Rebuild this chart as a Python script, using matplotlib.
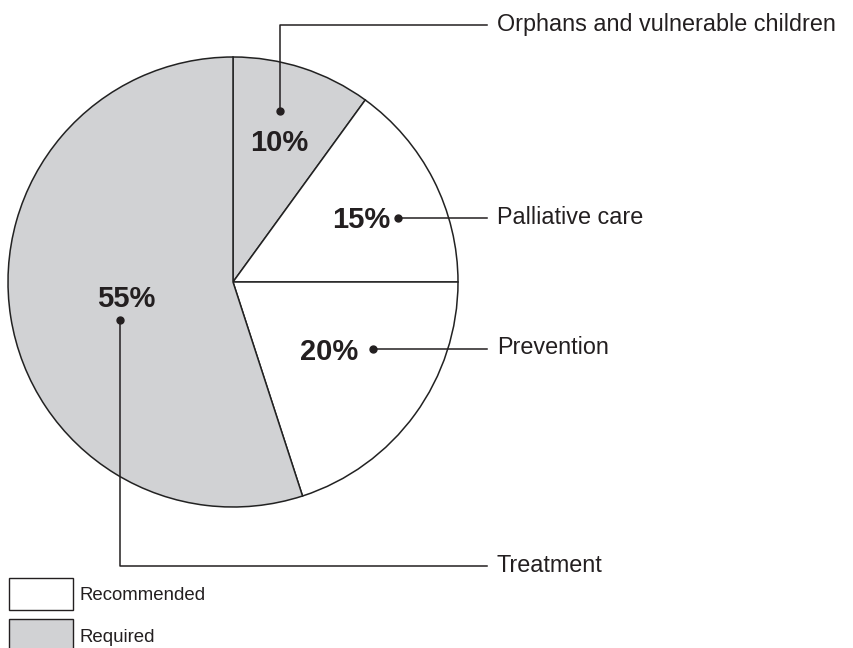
import matplotlib.pyplot as plt
from matplotlib.patches import Rectangle

plt.rcParams['font.family'] = ['Liberation Sans', 'DejaVu Sans']

categories = ['Orphans and vulnerable children', 'Palliative care', 'Prevention', 'Treatment']
shares = [10, 15, 20, 55]
status = ['Required', 'Recommended', 'Recommended', 'Required']
pct_labels = ['10%', '15%', '20%', '55%']

GRAY = '#d1d2d4'
colors = {'Required': GRAY, 'Recommended': 'white'}

fig = plt.figure(figsize=(8.54, 6.48), dpi=100)
ax = fig.add_axes([0, 0, 1, 1])

cx, cy, r = 233, 282, 225
# y axis is flipped below, so start at -90 and go counterclockwise in data space
wedges, _ = ax.pie(shares, colors=[colors[s] for s in status], startangle=-90,
                   counterclock=True, center=(cx, cy), radius=r,
                   wedgeprops=dict(edgecolor='#222222', linewidth=1.1))
ax.set_xlim(0, 854)
ax.set_ylim(648, 0)
ax.set_aspect('equal')
ax.axis('off')

# label positions (pixels): percent text, dot, callout path
pct_pos = [(279, 143), (361, 220), (329, 352), (126, 299)]
dots = [(280, 111), (398, 218), (373, 349), (120, 320)]
elbows = [(280, 25), None, None, (120, 566)]
label_y = [25, 218, 348, 566]
line_end = 487

for i, cat in enumerate(categories):
    ax.text(pct_pos[i][0], pct_pos[i][1], pct_labels[i], fontsize=21, fontweight='bold',
            ha='center', va='center', color='#231f20')
    dx, dy = dots[i]
    ax.plot(dx, dy, 'o', color='#231f20', markersize=5)
    if elbows[i] is None:
        xs, ys = [dx, line_end], [dy, dy]
    else:
        ex, ey = elbows[i]
        xs, ys = [dx, ex, line_end], [dy, ey, ey]
    ax.plot(xs, ys, color='#231f20', linewidth=1.1)
    ax.text(497, label_y[i], cat, fontsize=16.8, ha='left', va='center', color='#231f20')

# legend boxes
legend_items = ['Recommended', 'Required']
legend_y = [578, 619]
for name, y in zip(legend_items, legend_y):
    ax.add_patch(Rectangle((9, y), 64, 32, facecolor=colors[name], edgecolor='#231f20', linewidth=1))
    ax.text(80, y + 18, name, fontsize=13.4, ha='left', va='center', color='#231f20')

fig.savefig('out.png', dpi=100)
